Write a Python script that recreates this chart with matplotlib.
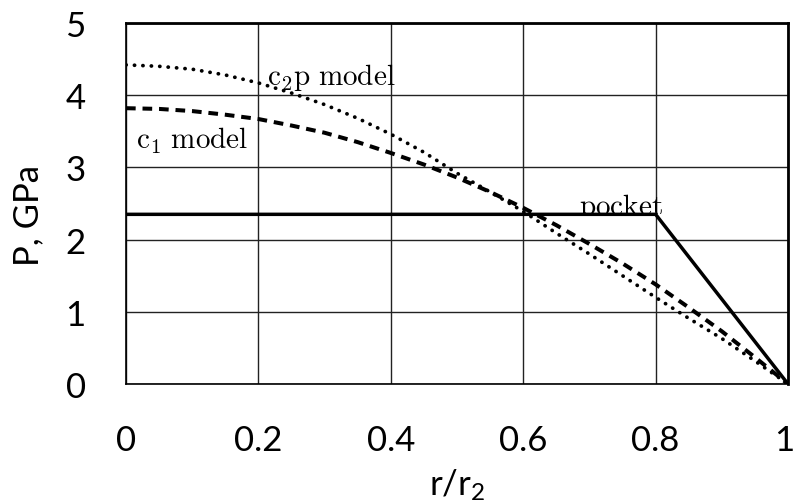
import matplotlib
matplotlib.use("Agg")
import matplotlib.pyplot as plt
from matplotlib.transforms import Bbox, TransformedBbox, ScaledTranslation

# Data
r = [0.0, 0.05, 0.1, 0.15, 0.2, 0.25, 0.3, 0.35, 0.4, 0.45, 0.5,
     0.55, 0.6, 0.65, 0.7, 0.75, 0.8, 0.85, 0.9, 0.95, 1.0]
c1_model = [3.82, 3.81, 3.78, 3.73, 3.67, 3.58, 3.48, 3.35, 3.20, 3.04, 2.86,
            2.66, 2.44, 2.20, 1.94, 1.67, 1.38, 1.06, 0.73, 0.37, 0.0]
c2p_model = [4.42, 4.40, 4.36, 4.28, 4.17, 4.03, 3.87, 3.68, 3.46, 3.21, 2.92,
             2.66, 2.39, 2.09, 1.80, 1.50, 1.20, 0.91, 0.63, 0.32, 0.0]
pocket_r = [0.0, 0.8, 1.0]
pocket_p = [2.35, 2.35, 0.0]

xticks = [0, 0.2, 0.4, 0.6, 0.8, 1]
xticklabels = ["0", "0.2", "0.4", "0.6", "0.8", "1"]
yticks = [0, 1, 2, 3, 4, 5]
yticklabels = ["0", "1", "2", "3", "4", "5"]

plt.rcParams["mathtext.fontset"] = "custom"
plt.rcParams["mathtext.rm"] = "Lato"
plt.rcParams["mathtext.it"] = "Lato"

fig = plt.figure(figsize=(7.96, 5.02), dpi=100)
ax = fig.add_axes([126/796, 1-385/502, (788-126)/796, (385-24)/502])

ax.set_xlim(0, 1)
ax.set_ylim(0, 5)
ax.set_xticks(xticks)
ax.set_xticklabels(xticklabels)
ax.set_yticks(yticks)
ax.set_yticklabels(yticklabels)
ax.tick_params(length=0, pad=29, labelsize=25)
for lab in ax.get_xticklabels() + ax.get_yticklabels():
    lab.set_family("Lato")
last = ax.get_xticklabels()[-1]
last.set_transform(last.get_transform() + ScaledTranslation(-3/72, 0, fig.dpi_scale_trans))

ax.grid(True, color="#222222", linewidth=1.0)
ax.set_axisbelow(True)
for side, sp in ax.spines.items():
    sp.set_color("black")
    sp.set_linewidth(2.0 if side in ("top", "right") else 1.2)

ax.plot(pocket_r, pocket_p, color="black", linewidth=2.5, solid_joinstyle="miter", zorder=4)
ax.plot(r, c1_model, color="black", linewidth=2.9, dashes=(2.4, 1.7), zorder=3)
ax.plot(r, c2p_model, color="black", linewidth=2.7, dashes=(0.05, 2.2),
        dash_capstyle="round", zorder=3)

ax.text(0.213, 4.155, r"$\mathrm{c_2p\ model}$", fontsize=21, ha="left",
        va="baseline", math_fontfamily="cm", zorder=2)
ax.text(0.015, 3.27, r"$\mathrm{c_1\ model}$", fontsize=21, ha="left",
        va="baseline", math_fontfamily="cm", zorder=2)
t = ax.text(0.684, 2.36, r"$\mathrm{pocket}$", fontsize=21, ha="left",
            va="baseline", math_fontfamily="cm", zorder=2)
t.set_clip_box(TransformedBbox(Bbox([[0.5, 2.35], [1.0, 5.0]]), ax.transData))
t.set_clip_on(True)

ax.set_xlabel(r"r/r$_2$", fontsize=25, family="Lato")
ax.set_ylabel("P, GPa", fontsize=25, family="Lato")
ax.xaxis.set_label_coords(0.5, -(485-385)/(385-24))
ax.yaxis.set_label_coords(-(126-28)/(788-126), (385-216)/(385-24))
ax.xaxis.label.set_va("center")
ax.yaxis.label.set_va("center")

fig.savefig("out.png", dpi=100)
